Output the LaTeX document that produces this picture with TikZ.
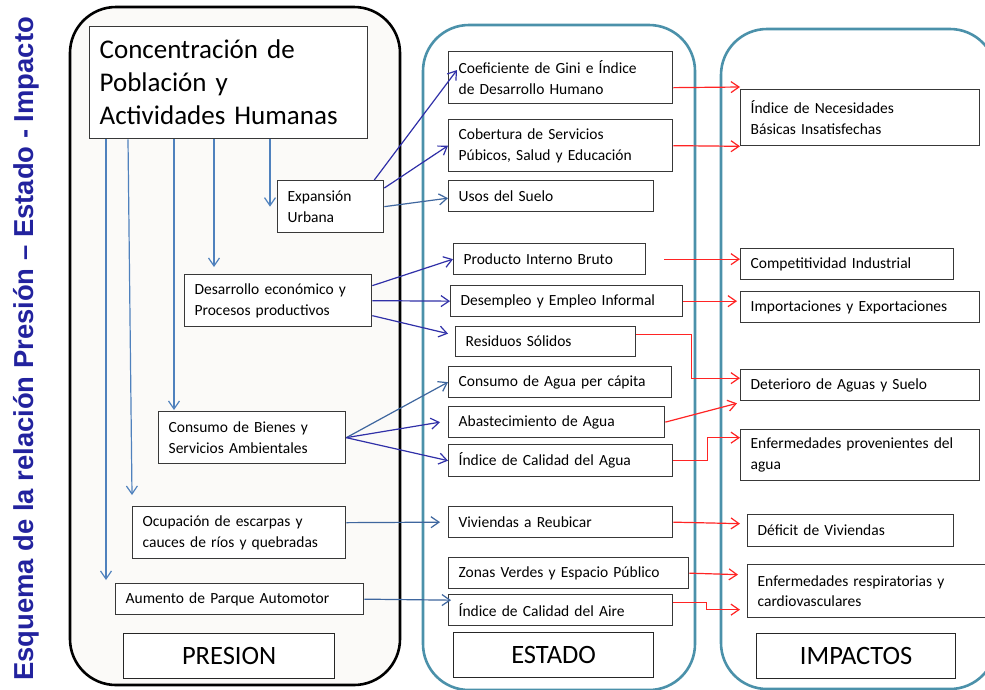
\documentclass[tikz,border=0pt]{standalone}
\usepackage{fontspec}
\setmainfont{Carlito}
\newfontfamily\titulofont{Liberation Sans}
\usetikzlibrary{arrows.meta}

\definecolor{azultitulo}{RGB}{34,34,158}
\definecolor{azulclaro}{RGB}{79,129,189}
\definecolor{azuloscuro}{RGB}{48,48,168}
\definecolor{azulacero}{RGB}{62,102,158}
\definecolor{verdeazul}{RGB}{75,145,170}
\definecolor{rojo}{RGB}{255,36,36}
\definecolor{fondo}{RGB}{251,250,248}

\tikzset{
  caja/.style 2 args={draw=black!78, line width=1.3pt, fill=white, anchor=north west,
    align=left, inner xsep=10pt, inner ysep=0pt, text width=#1, minimum height=#2,
    font=\fontsize{15.5}{20.5}\selectfont},
  titulo/.style={draw=black!85, line width=1.3pt, fill=white, anchor=north west,
    inner sep=0pt, minimum width=#1, minimum height=45pt, font=\fontsize{26.5}{30}\selectfont},
  columna/.style={line width=2.6pt, rounded corners=46pt},
  flecha/.style={-{Straight Barb[length=8pt,width=11pt]}, line width=1.2pt},
  vertical/.style={flecha, azulclaro},
  oscura/.style={flecha, azuloscuro},
  acero/.style={flecha, azulacero},
  roja/.style={flecha, rojo},
}

\begin{document}
\begin{tikzpicture}[x=1pt, y=-1pt]
  \useasboundingbox (0,0) rectangle (985,689);
  \clip (0,0) rectangle (985,689);

  % columnas
  \draw[columna, draw=black, fill=fondo] (70,7) rectangle (400,685);
  \draw[columna, draw=verdeazul, fill=white] (423,25) rectangle (695,690);
  \draw[columna, draw=verdeazul, fill=white] (721,29) rectangle (996,689);

  \node[rotate=90, anchor=base, text=azultitulo, font=\titulofont\bfseries\fontsize{27.4}{30}\selectfont]
    (esquema) at (33,349) {Esquema de la relación Presión – Estado - Impacto};

  % presion
  \node[caja={258pt}{112pt}, font=\fontsize{27}{33}\selectfont] (conc) at (89,26)
    {Concentración de\\Población y\\Actividades Humanas};
  \node[caja={86pt}{52pt}]  (expa) at (277,180) {Expansión\\Urbana};
  \node[caja={167pt}{52pt}] (desa) at (184,274) {Desarrollo económico y\\Procesos productivos};
  \node[caja={167pt}{52pt}] (cons) at (158,411) {Consumo de Bienes y\\Servicios Ambientales};
  \node[caja={193pt}{52pt}] (ocup) at (132,506) {Ocupación de escarpas y\\cauces de ríos y quebradas};
  \node[caja={228pt}{31pt}] (auto) at (115,583) {Aumento de Parque Automotor};
  \node[titulo=211pt] (pres) at (123,633) {PRESION};

  % estado
  \node[caja={204pt}{52pt}] (gini) at (448,51)  {Coeficiente de Gini e Índice\\de Desarrollo Humano};
  \node[caja={204pt}{52pt}] (cobe) at (448,119) {Cobertura de Servicios\\Púbicos, Salud y Educación};
  \node[caja={185pt}{31pt}] (usos) at (448,180) {Usos del Suelo};
  \node[caja={172pt}{31pt}] (prod) at (453,243) {Producto Interno Bruto};
  \node[caja={212pt}{31pt}] (dese) at (450,285) {Desempleo y Empleo Informal};
  \node[caja={160pt}{30pt}] (resi) at (455,326) {Residuos Sólidos};
  \node[caja={203pt}{31pt}] (cagu) at (448,366) {Consumo de Agua per cápita};
  \node[caja={196pt}{31pt}] (abas) at (448,406) {Abastecimiento de Agua};
  \node[caja={204pt}{32pt}] (cali) at (448,444) {Índice de Calidad del Agua};
  \node[caja={204pt}{31pt}] (vivi) at (448,506) {Viviendas a Reubicar};
  \node[caja={220pt}{31pt}] (zona) at (448,557) {Zonas Verdes y Espacio Público};
  \node[caja={204pt}{31pt}] (aire) at (448,594) {Índice de Calidad del Aire};
  \node[titulo=200pt] (esta) at (453,632) {ESTADO};

  % impactos
  \node[caja={219pt}{56pt}] (nbi)  at (740,89)  {Índice de Necesidades\\Básicas Insatisfechas};
  \node[caja={193pt}{31pt}] (comp) at (740,248) {Competitividad Industrial};
  \node[caja={219pt}{31pt}] (impo) at (740,291) {Importaciones y Exportaciones};
  \node[caja={219pt}{31pt}] (dete) at (740,369) {Deterioro de Aguas y Suelo};
  \node[caja={219pt}{51pt}] (enfa) at (740,429) {Enfermedades provenientes del\\agua};
  \node[caja={186pt}{32pt}] (defi) at (747,514) {Déficit de Viviendas};
  \node[caja={230pt}{53pt}] (resp) at (747,564) {Enfermedades respiratorias y\\cardiovasculares};
  \node[titulo=199pt] (impa) at (756,633) {IMPACTOS};

  % flechas verticales
  \coordinate (p1) at ([xshift=-7pt]expa.west);
  \coordinate (p2) at ([xshift=30pt,yshift=7pt]desa.north west);
  \coordinate (p3) at ([xshift=16pt,yshift=1pt]cons.north west);
  \coordinate (p5) at ([xshift=-9pt,yshift=3pt]auto.north west);
  \foreach \p in {p1,p2,p3,p5}
    \draw[vertical] (conc.south -| \p) -- (\p);
  \draw[vertical] ([xshift=39pt]conc.south west) -- ([yshift=11pt]ocup.north west);

  % presion -> estado
  \draw[oscura] ([xshift=-10pt]expa.north east) -- ([xshift=9pt,yshift=-19pt]gini.north west);
  \draw[oscura] ([yshift=-8pt]expa.north east) -- (cobe.west);
  \draw[acero] (expa.east) -- ([yshift=-2pt]usos.west);
  \draw[oscura] ([yshift=15pt]desa.east) -- (prod.west);
  \draw[oscura] (desa.east) -- (dese.west);
  \draw[oscura] ([yshift=-15pt]desa.east) -- ([xshift=-7pt,yshift=8pt]resi.west);
  \draw[acero] (cons.east) -- (cagu.west);
  \draw[oscura] (cons.east) -- ([xshift=-8pt]abas.west);
  \draw[oscura] (cons.east) -- (cali.west);
  \draw[acero] ([yshift=10pt]ocup.east) -- ([xshift=-8pt]vivi.west);
  \draw[acero] (auto.east) -- ([xshift=3pt,yshift=10pt]aire.west);

  % estado -> impactos
  \draw[roja] ([yshift=-10pt]gini.east) -- ([yshift=2pt]nbi.north west);
  \draw[roja] (cobe.east) -- (nbi.south west);
  \draw[roja] ([xshift=18pt]prod.east) -- ([yshift=5pt]comp.west);
  \draw[roja] (dese.east) -- ([xshift=-3pt,yshift=6pt]impo.west);
  \draw[roja] ([yshift=7pt]resi.east) -- ++(55,0) |- ([yshift=7pt]dete.west);
  \draw[roja] (abas.east) -- ([xshift=-3pt,yshift=-2pt]dete.south west);
  \draw[roja] (cali.east) -- ++(34,0) |- ([yshift=17.5pt]enfa.west);
  \draw[roja] (vivi.east) -- ([xshift=-7pt,yshift=7pt]defi.west);
  \draw[roja] (zona.east) -- ([xshift=-9pt,yshift=16.5pt]resp.west);
  \draw[roja] ([yshift=7.5pt]aire.east) -- ++(33,0) |- ([xshift=-7pt,yshift=-18.5pt]resp.west);
\end{tikzpicture}
\end{document}
